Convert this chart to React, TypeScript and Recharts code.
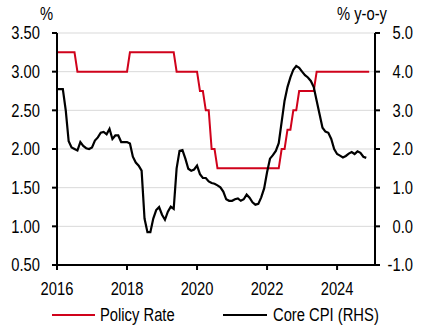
import React from "react";
import { LineChart, Line, XAxis, YAxis, CartesianGrid } from "recharts";

const FONT = "'Liberation Sans', Arial, sans-serif";
const RED = "#d0021b";
const NARROW = 0.82; // squeeze Liberation Sans to look like Arial Narrow
const FS = 18;

// monthly values, Dec 2015 .. Nov 2024 (plotted at month end)
const policyRate = [
  3.25,
  3.25, 3.25, 3.25, 3.25, 3.25, 3.25, 3.0, 3.0, 3.0, 3.0, 3.0, 3.0, // 2016
  3.0, 3.0, 3.0, 3.0, 3.0, 3.0, 3.0, 3.0, 3.0, 3.0, 3.0, 3.0, // 2017
  3.25, 3.25, 3.25, 3.25, 3.25, 3.25, 3.25, 3.25, 3.25, 3.25, 3.25, 3.25, // 2018
  3.25, 3.25, 3.25, 3.25, 3.0, 3.0, 3.0, 3.0, 3.0, 3.0, 3.0, 3.0, // 2019
  2.75, 2.75, 2.5, 2.5, 2.0, 2.0, 1.75, 1.75, 1.75, 1.75, 1.75, 1.75, // 2020
  1.75, 1.75, 1.75, 1.75, 1.75, 1.75, 1.75, 1.75, 1.75, 1.75, 1.75, 1.75, // 2021
  1.75, 1.75, 1.75, 1.75, 2.0, 2.0, 2.25, 2.25, 2.5, 2.5, 2.75, 2.75, // 2022
  2.75, 2.75, 2.75, 2.75, 3.0, 3.0, 3.0, 3.0, 3.0, 3.0, 3.0, 3.0, // 2023
  3.0, 3.0, 3.0, 3.0, 3.0, 3.0, 3.0, 3.0, 3.0, 3.0, 3.0, // 2024
];

const coreCpi = [
  3.55,
  3.55, 3.55, 3.0, 2.2, 2.04, 2.0, 1.96, 2.18, 2.08, 2.02, 2.0, 2.04,
  2.22, 2.3, 2.42, 2.44, 2.38, 2.52, 2.26, 2.35, 2.35, 2.18, 2.18, 2.18,
  2.14, 1.8, 1.65, 1.57, 1.44, 0.2, -0.15, -0.15, 0.2, 0.42, 0.5, 0.3,
  0.17, 0.38, 0.51, 0.45, 1.5, 1.95, 1.97, 1.75, 1.49, 1.44, 1.47, 1.57,
  1.35, 1.25, 1.25, 1.16, 1.12, 1.1, 1.06, 1.01, 0.9, 0.7, 0.66, 0.66,
  0.7, 0.72, 0.66, 0.7, 0.82, 0.74, 0.62, 0.56, 0.58, 0.75, 0.98, 1.4,
  1.75, 1.84, 1.95, 2.15, 2.7, 3.25, 3.6, 3.85, 4.05, 4.15, 4.1, 4.0,
  3.91, 3.85, 3.76, 3.6, 3.25, 2.9, 2.55, 2.45, 2.42, 2.26, 2.0, 1.87,
  1.83, 1.78, 1.82, 1.88, 1.92, 1.87, 1.94, 1.9, 1.8, 1.77, null,
];

const yearTicks = [2016, 2018, 2020, 2022, 2024];
const rateTicks = [0.5, 1.0, 1.5, 2.0, 2.5, 3.0, 3.5];
const cpiTicks = [-1, 0, 1, 2, 3, 4, 5];

const data = policyRate.map((rate, i) => ({
  t: 2016 + i / 12,
  rate,
  cpi: coreCpi[i],
}));

const NarrowText = ({ x, y, dy, anchor, children }: any) => (
  <g transform={`translate(${x},${y}) scale(${NARROW},1)`}>
    <text x={0} y={0} dy={dy} textAnchor={anchor} fontSize={FS} fill="#000" fontFamily={FONT}>
      {children}
    </text>
  </g>
);

const BottomTick = ({ x, y, payload }: any) => (
  <NarrowText x={x} y={y} dy="0.71em" anchor="middle">
    {payload.value}
  </NarrowText>
);

const LeftTick = ({ x, y, payload }: any) => (
  <NarrowText x={x} y={y} dy="0.355em" anchor="end">
    {Number(payload.value).toFixed(2)}
  </NarrowText>
);

const RightTick = ({ x, y, payload }: any) => (
  <NarrowText x={x + 31} y={y} dy="0.355em" anchor="end">
    {Number(payload.value).toFixed(1)}
  </NarrowText>
);

const legendText: React.CSSProperties = {
  position: "absolute",
  top: 304,
  fontSize: FS,
  lineHeight: "22px",
  color: "#000",
  whiteSpace: "nowrap",
  transform: `scaleX(${NARROW})`,
  transformOrigin: "left center",
};

export default function App() {
  return (
    <div
      style={{
        position: "absolute",
        left: 0,
        top: 0,
        width: 421,
        height: 332,
        background: "#fff",
        fontFamily: FONT,
      }}
    >
      <LineChart
        width={421}
        height={332}
        data={data}
        margin={{ top: 33, right: 0, bottom: 0, left: 0 }}
      >
        <CartesianGrid yAxisId="left" vertical={false} stroke="#d9d9d9" />
        <XAxis
          dataKey="t"
          type="number"
          domain={[2016, 2025.083]}
          ticks={yearTicks}
          height={67}
          tickSize={5}
          tickMargin={12}
          axisLine={{ stroke: "#000", strokeWidth: 2 }}
          tickLine={{ stroke: "#000", strokeWidth: 2 }}
          tick={<BottomTick />}
        />
        <YAxis
          yAxisId="left"
          width={57}
          domain={[0.5, 3.5]}
          ticks={rateTicks}
          tickSize={5}
          tickMargin={12}
          axisLine={{ stroke: "#000", strokeWidth: 2 }}
          tickLine={{ stroke: "#000", strokeWidth: 2 }}
          tick={<LeftTick />}
          label={(props: any) => (
            <NarrowText
              x={props.viewBox.x + props.viewBox.width - 4}
              y={props.viewBox.y - 13}
              anchor="end"
            >
              %
            </NarrowText>
          )}
        />
        <YAxis
          yAxisId="right"
          orientation="right"
          width={46}
          domain={[-1, 5]}
          ticks={cpiTicks}
          tickSize={5}
          tickMargin={2}
          axisLine={{ stroke: "#000", strokeWidth: 2 }}
          tickLine={{ stroke: "#000", strokeWidth: 2 }}
          tick={<RightTick />}
          label={(props: any) => (
            <NarrowText x={props.viewBox.x + 12} y={props.viewBox.y - 13} anchor="end">
              % y-o-y
            </NarrowText>
          )}
        />
        <Line
          yAxisId="left"
          dataKey="rate"
          type="linear"
          stroke={RED}
          strokeWidth={2}
          dot={false}
          isAnimationActive={false}
        />
        <Line
          yAxisId="right"
          dataKey="cpi"
          type="linear"
          stroke="#000"
          strokeWidth={2.2}
          dot={false}
          isAnimationActive={false}
        />
      </LineChart>

      <span style={{ position: "absolute", top: 314, left: 52, width: 43, height: 2, background: RED }} />
      <span style={{ ...legendText, left: 100 }}>Policy Rate</span>
      <span style={{ position: "absolute", top: 314, left: 223, width: 44, height: 2, background: "#000" }} />
      <span style={{ ...legendText, left: 273 }}>Core CPI (RHS)</span>
    </div>
  );
}
